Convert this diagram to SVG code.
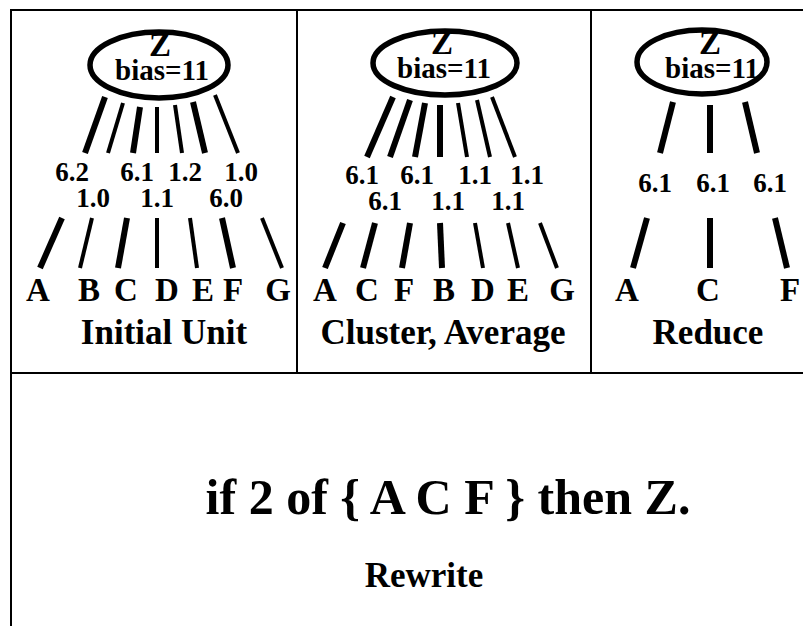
<svg xmlns="http://www.w3.org/2000/svg" width="803" height="626" viewBox="0 0 803 626">
<style>
text{font-family:"Liberation Serif","Times New Roman",serif;font-weight:bold;fill:#000;text-anchor:middle}
.frame{fill:none;stroke:#000;stroke-width:2}
.unit{fill:#fff;stroke:#000;stroke-width:5.5}
.z{font-size:33px}
.bias{font-size:29px}
.w{font-size:27px}
.in{font-size:33px}
.cap{font-size:35px}
.h{stroke:#000;stroke-width:6;fill:none}
.l{stroke:#000;stroke-width:4;fill:none}
</style>
<rect width="803" height="626" fill="#fff"/>
<g id="frames">
<path class="frame" d="M11,626 V10 H803 M297,10 V373 M591,10 V373 M11,373 H803"/>
</g>
<g id="connectors">
<line class="h" x1="105" y1="97" x2="85" y2="153"/>
<line class="l" x1="123" y1="103" x2="108" y2="153"/>
<line class="h" x1="140" y1="107" x2="133" y2="153"/>
<line class="l" x1="157" y1="107" x2="157" y2="153"/>
<line class="l" x1="175" y1="105" x2="182" y2="153"/>
<line class="h" x1="193" y1="102" x2="205" y2="153"/>
<line class="l" x1="215" y1="95" x2="238" y2="153"/>
<line class="h" x1="62" y1="218" x2="40" y2="268"/>
<line class="l" x1="92" y1="218" x2="80" y2="268"/>
<line class="h" x1="127" y1="218" x2="118" y2="268"/>
<line class="l" x1="157" y1="218" x2="157" y2="268"/>
<line class="l" x1="190" y1="218" x2="197" y2="268"/>
<line class="h" x1="222" y1="218" x2="233" y2="268"/>
<line class="l" x1="262" y1="218" x2="282" y2="268"/>
<line class="h" x1="393" y1="97" x2="367" y2="157"/>
<line class="h" x1="410" y1="100" x2="390" y2="157"/>
<line class="h" x1="425" y1="103" x2="415" y2="157"/>
<line class="h" x1="440" y1="105" x2="440" y2="157"/>
<line class="l" x1="458" y1="103" x2="467" y2="157"/>
<line class="l" x1="477" y1="100" x2="490" y2="157"/>
<line class="l" x1="492" y1="97" x2="515" y2="157"/>
<line class="h" x1="343" y1="223" x2="325" y2="268"/>
<line class="h" x1="375" y1="223" x2="363" y2="268"/>
<line class="h" x1="410" y1="223" x2="402" y2="268"/>
<line class="h" x1="440" y1="223" x2="442" y2="268"/>
<line class="l" x1="475" y1="223" x2="483" y2="268"/>
<line class="l" x1="508" y1="223" x2="518" y2="268"/>
<line class="l" x1="540" y1="223" x2="557" y2="268"/>
<line class="h" x1="673" y1="102" x2="660" y2="153"/>
<line class="h" x1="710" y1="105" x2="710" y2="153"/>
<line class="h" x1="745" y1="102" x2="757" y2="153"/>
<line class="h" x1="647" y1="218" x2="633" y2="268"/>
<line class="h" x1="710" y1="218" x2="710" y2="268"/>
<line class="h" x1="775" y1="218" x2="787" y2="268"/>
</g>
<g id="z1"><ellipse class="unit" cx="159" cy="65" rx="69" ry="33"/><text class="z" x="160" y="56">Z</text><text class="bias" x="162" y="80">bias=11</text></g>
<g id="z2"><ellipse class="unit" cx="445" cy="63" rx="72" ry="32"/><text class="z" x="442" y="54">Z</text><text class="bias" x="444" y="78">bias=11</text></g>
<g id="z3"><ellipse class="unit" cx="702" cy="62" rx="65" ry="32"/><text class="z" x="710" y="54">Z</text><text class="bias" x="712" y="78">bias=11</text></g>
<g id="weights1">
<text class="w" x="72" y="181">6.2</text><text class="w" x="137" y="181">6.1</text><text class="w" x="185" y="181">1.2</text><text class="w" x="241" y="181">1.0</text>
<text class="w" x="93" y="207">1.0</text><text class="w" x="157" y="207">1.1</text><text class="w" x="226" y="207">6.0</text>
</g>
<g id="weights2">
<text class="w" x="362" y="184">6.1</text><text class="w" x="417" y="184">6.1</text><text class="w" x="475" y="184">1.1</text><text class="w" x="527" y="184">1.1</text>
<text class="w" x="385" y="210">6.1</text><text class="w" x="448" y="210">1.1</text><text class="w" x="508" y="210">1.1</text>
</g>
<g id="weights3">
<text class="w" x="655" y="192">6.1</text><text class="w" x="713" y="192">6.1</text><text class="w" x="770" y="192">6.1</text>
</g>
<g id="inputs1">
<text class="in" x="38" y="301">A</text><text class="in" x="89" y="301">B</text><text class="in" x="126" y="301">C</text><text class="in" x="167" y="301">D</text><text class="in" x="203" y="301">E</text><text class="in" x="233" y="301">F</text><text class="in" x="278" y="301">G</text>
</g>
<g id="inputs2">
<text class="in" x="325" y="301">A</text><text class="in" x="367" y="301">C</text><text class="in" x="404" y="301">F</text><text class="in" x="444" y="301">B</text><text class="in" x="483" y="301">D</text><text class="in" x="518" y="301">E</text><text class="in" x="562" y="301">G</text>
</g>
<g id="inputs3">
<text class="in" x="627" y="301">A</text><text class="in" x="708" y="301">C</text><text class="in" x="790" y="301">F</text>
</g>
<g id="captions">
<text class="cap" x="164" y="344">Initial Unit</text>
<text class="cap" x="443" y="344">Cluster, Average</text>
<text class="cap" x="708" y="344">Reduce</text>
<text x="448" y="514" style="font-size:50px">if 2 of { A C F } then Z.</text>
<text x="424" y="587" style="font-size:35px">Rewrite</text>
</g>
</svg>
